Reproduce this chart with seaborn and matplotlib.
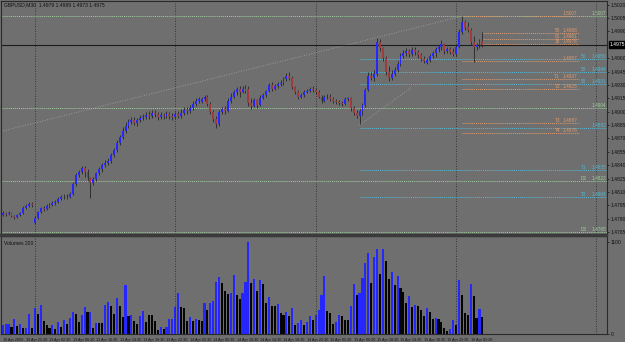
import matplotlib
matplotlib.use("Agg")
import matplotlib.pyplot as plt
import seaborn as sns
import numpy as np
import pandas as pd

# GBPUSD M30 candles (price)
opens = [1.4784, 1.4786, 1.4785, 1.4786, 1.4783, 1.4782, 1.4784, 1.4786, 1.4792, 1.4794,
         1.4797, 1.4775, 1.4781, 1.4788, 1.4792, 1.4791, 1.4794, 1.4795, 1.4798, 1.4799,
         1.4802, 1.4804, 1.4805, 1.4804, 1.4808, 1.4819, 1.4829, 1.4832, 1.4837, 1.4833,
         1.4826, 1.4820, 1.4825, 1.4831, 1.4836, 1.4840, 1.4842, 1.4845, 1.4851, 1.4857,
         1.4865, 1.4872, 1.4878, 1.4884, 1.4888, 1.4891, 1.4887, 1.4891, 1.4893, 1.4894,
         1.4896, 1.4895, 1.4898, 1.4897, 1.4894, 1.4896, 1.4895, 1.4897, 1.4895, 1.4894,
         1.4897, 1.4895, 1.4898, 1.4902, 1.4901, 1.4904, 1.4909, 1.4912, 1.4911, 1.4914,
         1.4916, 1.4909, 1.4900, 1.4892, 1.4886, 1.4900, 1.4903, 1.4901, 1.4912, 1.4917,
         1.4922, 1.4925, 1.4922, 1.4925, 1.4925, 1.4910, 1.4906, 1.4913, 1.4907, 1.4915,
         1.4919, 1.4923, 1.4930, 1.4925, 1.4929, 1.4931, 1.4932, 1.4937, 1.4940, 1.4938,
         1.4928, 1.4922, 1.4916, 1.4919, 1.4922, 1.4923, 1.4925, 1.4924, 1.4922, 1.4917,
         1.4912, 1.4916, 1.4917, 1.4914, 1.4912, 1.4911, 1.4910, 1.4909, 1.4914, 1.4915,
         1.4904, 1.4898, 1.4895, 1.4901, 1.4907, 1.4924, 1.4940, 1.4938, 1.4942, 1.4978,
         1.4971, 1.4960, 1.4944, 1.4938, 1.4942, 1.4947, 1.4953, 1.4962, 1.4966, 1.4968,
         1.4965, 1.4969, 1.4967, 1.4963, 1.4959, 1.4954, 1.4958, 1.4962, 1.4966, 1.4970,
         1.4972, 1.4976, 1.4968, 1.4970, 1.4967, 1.4965, 1.4973, 1.4989, 1.5001, 1.4995,
         1.4991, 1.4978, 1.4972, 1.4975, 1.4979]
closes = [1.4786, 1.4785, 1.4786, 1.4783, 1.4782, 1.4784, 1.4786, 1.4792, 1.4794, 1.4797,
          1.4795, 1.4781, 1.4788, 1.4792, 1.4791, 1.4794, 1.4795, 1.4798, 1.4799, 1.4802,
          1.4804, 1.4805, 1.4804, 1.4808, 1.4819, 1.4829, 1.4832, 1.4837, 1.4833, 1.4826,
          1.4820, 1.4825, 1.4831, 1.4836, 1.4840, 1.4842, 1.4845, 1.4851, 1.4857, 1.4865,
          1.4872, 1.4878, 1.4884, 1.4888, 1.4891, 1.4887, 1.4891, 1.4893, 1.4894, 1.4896,
          1.4895, 1.4898, 1.4897, 1.4894, 1.4896, 1.4895, 1.4897, 1.4895, 1.4894, 1.4897,
          1.4895, 1.4898, 1.4902, 1.4901, 1.4904, 1.4909, 1.4912, 1.4914, 1.4914, 1.4916,
          1.4909, 1.4900, 1.4892, 1.4886, 1.4900, 1.4903, 1.4901, 1.4912, 1.4917, 1.4922,
          1.4925, 1.4922, 1.4925, 1.4923, 1.4910, 1.4906, 1.4913, 1.4907, 1.4915, 1.4919,
          1.4923, 1.4930, 1.4925, 1.4929, 1.4931, 1.4932, 1.4937, 1.4940, 1.4938, 1.4928,
          1.4922, 1.4916, 1.4919, 1.4922, 1.4923, 1.4925, 1.4924, 1.4922, 1.4917, 1.4912,
          1.4916, 1.4917, 1.4914, 1.4912, 1.4911, 1.4910, 1.4909, 1.4914, 1.4915, 1.4904,
          1.4898, 1.4895, 1.4901, 1.4907, 1.4924, 1.4940, 1.4938, 1.4942, 1.4978, 1.4971,
          1.4960, 1.4944, 1.4938, 1.4942, 1.4947, 1.4953, 1.4962, 1.4966, 1.4968, 1.4965,
          1.4969, 1.4967, 1.4963, 1.4959, 1.4957, 1.4958, 1.4962, 1.4966, 1.4970, 1.4972,
          1.4976, 1.4968, 1.4970, 1.4967, 1.4965, 1.4973, 1.4989, 1.5001, 1.4994, 1.4991,
          1.4978, 1.4972, 1.4975, 1.4979, 1.4975]
highs = [1.4789, 1.4788, 1.4789, 1.4788, 1.4784, 1.4785, 1.4788, 1.4794, 1.4797, 1.4799,
         1.4799, 1.4783, 1.4789, 1.4793, 1.4794, 1.4797, 1.4798, 1.4800, 1.4801, 1.4804,
         1.4807, 1.4808, 1.4808, 1.4810, 1.4821, 1.4831, 1.4835, 1.4839, 1.4839, 1.4836,
         1.4827, 1.4827, 1.4833, 1.4838, 1.4842, 1.4846, 1.4848, 1.4854, 1.4859, 1.4868,
         1.4874, 1.4883, 1.4888, 1.4892, 1.4894, 1.4894, 1.4893, 1.4896, 1.4897, 1.4900,
         1.4901, 1.4902, 1.4902, 1.4900, 1.4900, 1.4898, 1.4901, 1.4900, 1.4898, 1.4900,
         1.4901, 1.4903, 1.4905, 1.4905, 1.4907, 1.4912, 1.4915, 1.4917, 1.4916, 1.4919,
         1.4919, 1.4911, 1.4902, 1.4895, 1.4902, 1.4905, 1.4906, 1.4915, 1.4921, 1.4924,
         1.4928, 1.4929, 1.4929, 1.4930, 1.4929, 1.4915, 1.4915, 1.4914, 1.4919, 1.4921,
         1.4924, 1.4932, 1.4933, 1.4931, 1.4933, 1.4935, 1.4939, 1.4943, 1.4944, 1.4940,
         1.4929, 1.4924, 1.4921, 1.4924, 1.4925, 1.4928, 1.4929, 1.4926, 1.4924, 1.4919,
         1.4919, 1.4920, 1.4920, 1.4916, 1.4914, 1.4913, 1.4912, 1.4916, 1.4917, 1.4916,
         1.4906, 1.4902, 1.4903, 1.4910, 1.4926, 1.4944, 1.4944, 1.4947, 1.4982, 1.4981,
         1.4973, 1.4962, 1.4951, 1.4947, 1.4950, 1.4957, 1.4966, 1.4969, 1.4971, 1.4970,
         1.4972, 1.4973, 1.4969, 1.4966, 1.4962, 1.4960, 1.4965, 1.4968, 1.4972, 1.4975,
         1.4980, 1.4977, 1.4972, 1.4972, 1.4971, 1.4976, 1.4993, 1.5007, 1.5003, 1.5000,
         1.4994, 1.4985, 1.4977, 1.4981, 1.4989]
lows = [1.4783, 1.4783, 1.4784, 1.4782, 1.4780, 1.4781, 1.4783, 1.4785, 1.4791, 1.4793,
        1.4793, 1.4774, 1.4780, 1.4786, 1.4789, 1.4790, 1.4792, 1.4794, 1.4795, 1.4798,
        1.4801, 1.4802, 1.4802, 1.4803, 1.4807, 1.4817, 1.4827, 1.4830, 1.4827, 1.4823,
        1.4803, 1.4818, 1.4822, 1.4829, 1.4833, 1.4838, 1.4840, 1.4842, 1.4849, 1.4855,
        1.4863, 1.4869, 1.4876, 1.4882, 1.4886, 1.4885, 1.4884, 1.4888, 1.4891, 1.4892,
        1.4892, 1.4893, 1.4894, 1.4891, 1.4892, 1.4892, 1.4893, 1.4892, 1.4891, 1.4892,
        1.4893, 1.4893, 1.4896, 1.4897, 1.4898, 1.4902, 1.4906, 1.4910, 1.4910, 1.4912,
        1.4906, 1.4897, 1.4888, 1.4882, 1.4884, 1.4897, 1.4897, 1.4900, 1.4910, 1.4915,
        1.4919, 1.4916, 1.4921, 1.4921, 1.4906, 1.4903, 1.4905, 1.4904, 1.4906, 1.4914,
        1.4916, 1.4922, 1.4923, 1.4924, 1.4926, 1.4929, 1.4930, 1.4934, 1.4935, 1.4925,
        1.4920, 1.4914, 1.4915, 1.4916, 1.4921, 1.4922, 1.4922, 1.4920, 1.4915, 1.4910,
        1.4911, 1.4914, 1.4912, 1.4910, 1.4909, 1.4907, 1.4906, 1.4907, 1.4912, 1.4901,
        1.4896, 1.4893, 1.4886, 1.4896, 1.4905, 1.4923, 1.4935, 1.4934, 1.4940, 1.4968,
        1.4957, 1.4941, 1.4934, 1.4935, 1.4940, 1.4944, 1.4951, 1.4960, 1.4962, 1.4961,
        1.4962, 1.4963, 1.4960, 1.4957, 1.4954, 1.4953, 1.4956, 1.4960, 1.4961, 1.4967,
        1.4969, 1.4965, 1.4966, 1.4965, 1.4962, 1.4962, 1.4971, 1.4987, 1.4991, 1.4989,
        1.4975, 1.4956, 1.4969, 1.4971, 1.4973]

volumes = [108, 120, 120, 80, 180, 96, 120, 68, 68, 240, 76, 308, 240, 348, 160, 108, 76, 108, 60, 140,
           88, 168, 116, 188, 268, 240, 148, 228, 320, 268, 268, 76, 136, 136, 128, 348, 380, 340, 240, 428,
           340, 200, 588, 216, 228, 156, 116, 216, 280, 148, 228, 228, 156, 48, 88, 60, 88, 176, 184, 320,
           488, 328, 308, 160, 200, 156, 176, 168, 160, 376, 288,
           376, 396, 628, 688, 608, 520, 480, 488, 708, 468, 416, 496, 620, 1100, 616, 656, 516, 648, 600, 368,
           448, 336, 336, 360, 256, 228, 268, 216, 316, 108, 136, 168, 108, 148, 216, 168, 228, 288, 468, 700,
           280, 256, 120, 148, 228, 216, 168, 168, 336, 600, 468, 488, 668, 856, 976, 616, 920, 1020, 720, 1020,
           880, 656, 748, 588, 696, 556, 508, 368,
           460, 328, 348, 336, 288, 220, 316, 268, 176, 188, 176, 148, 68, 36, 56, 168, 108, 648, 468, 248,
           228, 596, 460, 188, 300, 200]
vol_dirs = list("BBBKBKBKBBKBKBKKKBKBKBKBBKKBBKBKBKKBBKKBKKBKBKKBBKKKKKBKBBBBBKKKBKBKKBK"
                "BBBBKKKBBKKBBBKBKBKKBKKBKKBKBKBBKBBKBBBBKKKBBKKKBBKBBBBKBBKBKKBKBKKK"
                "BKBKKKBKKBKKKKBBKBKKKBKKBK")

day_starts = [11, 59, 107, 155, 203]
label_bars = list(range(0, 161, 8))
time_labels = ["10 Apr 2009", "10 Apr 22:30", "13 Apr 02:30", "13 Apr 06:30", "13 Apr 10:30",
               "13 Apr 14:30", "13 Apr 18:30", "13 Apr 22:30", "14 Apr 02:30", "14 Apr 06:30",
               "14 Apr 10:30", "14 Apr 14:30", "14 Apr 18:30", "14 Apr 22:30", "15 Apr 02:30",
               "15 Apr 06:30", "15 Apr 10:30", "15 Apr 14:30", "15 Apr 18:30", "15 Apr 22:30",
               "16 Apr 02:30"]
price_ticks = [1.5020, 1.5005, 1.4990, 1.4960, 1.4945, 1.4930, 1.4915, 1.4900, 1.4885,
               1.4870, 1.4855, 1.4840, 1.4825, 1.4810, 1.4795, 1.4780, 1.4765]
last_price = 1.4975

# horizontal levels
green_levels = [1.5007, 1.4904, 1.4822, 1.4765]
green_tags = ["", "", "D2", "D3"]
cyan_levels = [1.4959, 1.4944, 1.4931, 1.4882, 1.4835, 1.4804]
cyan_tags = ["50", "50", "50", "", "T1", "T2"]
orange_levels = [1.5007, 1.4988, 1.4981, 1.4976, 1.4957, 1.4937, 1.4925, 1.4887, 1.4876]
orange_tags = ["", "50", "61", "38", "", "T1", "T2", "T3", "T4"]
orange_start = [157, 164, 164, 164, 157, 157, 157, 157, 157]

# trend lines (bar, price) pairs
trend_a = ([-0.58, 157], [1.4878, 1.5007])
trend_b = ([122, 140], [1.4885, 1.4928])

bg = "#6f6f6f"
up_col = "#2626ff"
dn_col = "#a13b3b"
green = "#9ccf9c"
cyan = "#53b8d6"
orange = "#e09a6e"
W, H = 625, 342
X0, X1 = -0.58, 206.6

sns.set_style("dark", {"axes.facecolor": bg, "figure.facecolor": bg})
plt.rcParams["font.family"] = ["Liberation Sans", "DejaVu Sans"]

fig = plt.figure(figsize=(6.25, 3.42), dpi=100)
ax = fig.add_axes([1 / W, 108 / H, 606 / W, 233 / H])
axv = fig.add_axes([1 / W, 8 / H, 606 / W, 98 / H])

idx = np.arange(len(opens))
o = np.array(opens)
c = np.array(closes)
body_col = [up_col if cc >= oo else dn_col for oo, cc in zip(o, c)]
body_h = np.maximum(np.abs(c - o), 0.00004)

ax.vlines(idx, lows, highs, color="#262626", lw=0.6, zorder=3)
ax.bar(idx, body_h, bottom=np.minimum(o, c), width=0.66, color=body_col, lw=0, zorder=4)

# level lines
for p, t in zip(green_levels, green_tags):
    ax.hlines(p, X0, X1, color=green, lw=0.7, ls=(0, (1, 1)), zorder=2)
    ax.text(206.4, p, f"{p:.4f}", color=green, fontsize=3.4, ha="right", va="bottom")
    if t:
        ax.text(199.5, p, t, color=green, fontsize=3.4, ha="right", va="bottom")
for p, t in zip(cyan_levels, cyan_tags):
    ax.hlines(p, 122, X1, color=cyan, lw=0.7, ls=(0, (1, 1)), zorder=2)
    ax.text(206.4, p, f"{p:.4f}", color=cyan, fontsize=3.4, ha="right", va="bottom")
    if t:
        ax.text(199.5, p, t, color=cyan, fontsize=3.4, ha="right", va="bottom")
for p, t, s in zip(orange_levels, orange_tags, orange_start):
    ax.hlines(p, s, 197, color=orange, lw=0.7, ls=(0, (1, 1)), zorder=2)
    ax.text(196.5, p, f"{p:.4f}", color=orange, fontsize=3.4, ha="right", va="bottom")
    if t:
        ax.text(190.5, p, t, color=orange, fontsize=3.4, ha="right", va="bottom")

for tx, ty in (trend_a, trend_b):
    ax.plot(tx, ty, color="#a8a8a8", lw=0.6, ls=(0, (1, 2)), zorder=2)

ax.axhline(last_price, color="#1c1c1c", lw=0.8, zorder=2)

# volumes
vdf = pd.DataFrame({"bar": idx, "vol": volumes, "dir": vol_dirs})
sns.barplot(data=vdf, x="bar", y="vol", hue="dir", palette={"B": up_col, "K": "#050505"},
            native_scale=True, width=0.72, dodge=False, legend=False, errorbar=None,
            saturation=1, linewidth=0, ax=axv)

for a in (ax, axv):
    for d in day_starts:
        a.axvline(d, color="#222222", lw=0.6, ls=(0, (1, 2)), zorder=1)
    a.set_xlim(X0, X1)
    a.set_facecolor(bg)
    for s in a.spines.values():
        s.set_color("#2a2a2a")
        s.set_linewidth(0.8)
    a.yaxis.tick_right()
    a.tick_params(axis="y", colors="#111111", labelsize=3.6, length=1.5, width=0.5, pad=1)
    a.set_xlabel("")
    a.set_ylabel("")

ax.set_ylim(1.4763, 1.5024)
ax.set_yticks(price_ticks, labels=[f"{p:.4f}" for p in price_ticks])
ax.set_xticks([])
ax.text(1.004, last_price, f"{last_price:.4f}", transform=ax.get_yaxis_transform(),
        fontsize=3.6, color="white", va="center", ha="left",
        bbox=dict(boxstyle="square,pad=0.15", fc="black", ec="black"))

axv.set_ylim(0, 1176)
axv.set_yticks([0, 1100], labels=["0", "1100"])
axv.set_xticks(label_bars)
axv.set_xticklabels(time_labels, ha="left", fontsize=2.7, color="#111111")
axv.tick_params(axis="x", length=2, width=0.5, pad=0.8, colors="#111111")

fig.patches.append(plt.Rectangle((0, 106 / H), 607 / W, 2 / H, transform=fig.transFigure,
                                 color="#3a3a3a", zorder=5))
fig.text(4 / W, 1 - 5 / H, "GBPUSD,M30  1.4979 1.4989 1.4973 1.4975", fontsize=3.6,
         color="#111111", va="center")
axv.text(0.005, 0.95, "Volumes 200", transform=axv.transAxes,
         fontsize=3.6, color="#111111", va="top")

fig.savefig("out.png", dpi=100, facecolor=bg)
